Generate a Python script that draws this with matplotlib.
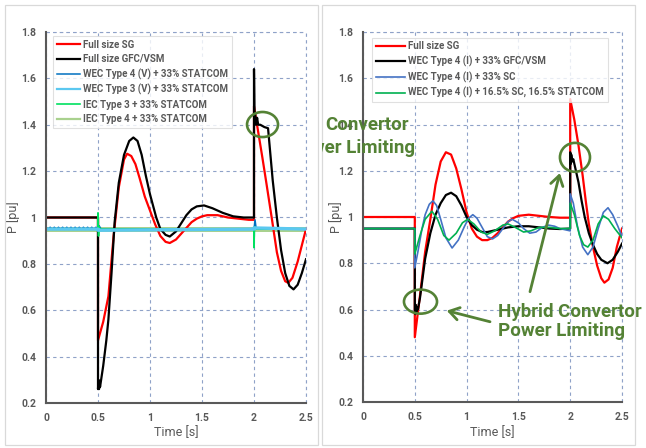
import matplotlib
matplotlib.use("Agg")
import matplotlib.pyplot as plt
from matplotlib.patches import Ellipse, Rectangle

plt.rcParams["font.family"] = ["Roboto", "DejaVu Sans"]

# ---- left chart: full size units vs WEC/IEC models + 33% STATCOM ----
L_SG_T = [0, 0.5, 0.5, 0.55, 0.6, 0.65, 0.7, 0.75, 0.78, 0.82, 0.86, 0.9, 0.95,
          1.0, 1.05, 1.1, 1.15, 1.19, 1.25, 1.3, 1.35, 1.4, 1.45, 1.5, 1.55,
          1.65, 1.75, 1.85, 1.95, 2.0, 2.0, 2.04, 2.08, 2.115, 2.17, 2.22,
          2.26, 2.3, 2.33, 2.37, 2.42, 2.46, 2.5]
L_SG_P = [1.0, 1.0, 0.47, 0.55, 0.66, 0.92, 1.13, 1.25, 1.275, 1.265, 1.23,
          1.17, 1.09, 1.03, 0.97, 0.92, 0.895, 0.89, 0.905, 0.93, 0.955, 0.98,
          0.995, 1.005, 1.01, 1.01, 1.0, 0.995, 0.99, 0.99, 1.48, 1.37, 1.26,
          1.16, 1.0, 0.85, 0.77, 0.725, 0.718, 0.74, 0.81, 0.88, 0.95]

L_GFC_T = [0, 0.5, 0.5, 0.505, 0.51, 0.515, 0.52, 0.53, 0.55, 0.58, 0.6, 0.63,
           0.66, 0.7, 0.75, 0.8, 0.84, 0.88, 0.92, 0.96, 1.0, 1.06, 1.1, 1.15,
           1.19, 1.25, 1.3, 1.35, 1.4, 1.45, 1.52, 1.6, 1.7, 1.8, 1.9, 2.0,
           2.0, 2.005, 2.01, 2.02, 2.03, 2.04, 2.06, 2.1, 2.135, 2.16, 2.18,
           2.22, 2.26, 2.3, 2.34, 2.38, 2.42, 2.46, 2.5]
L_GFC_P = [1.0, 1.0, 0.26, 0.3, 0.26, 0.29, 0.27, 0.3, 0.36, 0.47, 0.56, 0.76,
           0.98, 1.15, 1.27, 1.33, 1.345, 1.33, 1.27, 1.18, 1.1, 1.0, 0.95,
           0.925, 0.918, 0.94, 0.975, 1.01, 1.035, 1.048, 1.052, 1.04, 1.02,
           1.005, 1.0, 1.0, 1.64, 1.42, 1.45, 1.4, 1.43, 1.4, 1.4, 1.39, 1.385,
           1.26, 1.16, 1.0, 0.86, 0.76, 0.705, 0.69, 0.71, 0.76, 0.82]

L_WEC4_T = [0, 0.02, 0.04, 0.06, 0.08, 0.1, 0.12, 0.14, 0.16, 0.18, 0.2, 0.22,
            0.24, 0.26, 0.28, 0.3, 0.32, 0.34, 0.36, 0.38, 0.4, 0.42, 0.44,
            0.46, 0.48, 0.5, 0.51, 0.53, 0.55, 2.0, 2.01, 2.02, 2.04, 2.5]
L_WEC4_P = [0.958, 0.949, 0.958, 0.949, 0.958, 0.949, 0.958, 0.949, 0.958,
            0.949, 0.958, 0.949, 0.958, 0.949, 0.958, 0.949, 0.958, 0.949,
            0.958, 0.949, 0.958, 0.949, 0.958, 0.949, 0.958, 0.95, 0.965,
            0.95, 0.95, 0.95, 0.99, 0.955, 0.95, 0.95]

L_WEC3_T = [0, 0.5, 0.5, 2.0, 2.0, 2.5]
L_WEC3_P = [0.95, 0.95, 0.945, 0.95, 0.955, 0.95]

L_IEC3_T = [0, 0.5, 0.5, 0.505, 0.51, 0.52, 2.0, 2.0, 2.005, 2.01, 2.5]
L_IEC3_P = [0.95, 0.95, 1.02, 0.92, 0.96, 0.95, 0.95, 0.87, 0.96, 0.95, 0.95]

L_IEC4_T = [0, 2.5]
L_IEC4_P = [0.95, 0.95]

# ---- right chart: WEC Type 4 (I) variants ----
R_SG_T = [0, 0.5, 0.5, 0.55, 0.6, 0.65, 0.7, 0.75, 0.8, 0.85, 0.9, 0.95, 1.0,
          1.05, 1.1, 1.15, 1.2, 1.25, 1.3, 1.35, 1.4, 1.45, 1.5, 1.6, 1.7, 1.8,
          1.9, 2.0, 2.0, 2.04, 2.08, 2.12, 2.15, 2.18, 2.22, 2.26, 2.3, 2.33,
          2.37, 2.41, 2.45, 2.5]
R_SG_P = [1.0, 1.0, 0.48, 0.66, 0.85, 0.99, 1.14, 1.24, 1.28, 1.27, 1.21,
          1.12, 1.02, 0.95, 0.915, 0.9, 0.9, 0.91, 0.93, 0.955, 0.98, 0.995,
          1.005, 1.01, 1.005, 1.0, 0.997, 0.997, 1.51, 1.42, 1.31, 1.18, 1.07,
          0.97, 0.87, 0.79, 0.735, 0.716, 0.73, 0.78, 0.87, 0.95]

R_GFC_T = [0, 0.5, 0.5, 0.505, 0.51, 0.515, 0.52, 0.53, 0.55, 0.6, 0.65, 0.7,
           0.75, 0.8, 0.85, 0.9, 0.95, 1.0, 1.05, 1.1, 1.15, 1.2, 1.3, 1.4, 1.5,
           1.6, 1.7, 1.8, 1.9, 2.0, 2.0, 2.005, 2.01, 2.02, 2.03, 2.05, 2.08,
           2.11, 2.14, 2.18, 2.22, 2.26, 2.3, 2.36, 2.41, 2.46, 2.5]
R_GFC_P = [0.95, 0.95, 0.6, 0.58, 0.62, 0.59, 0.61, 0.6, 0.65, 0.82, 0.93,
           1.01, 1.06, 1.095, 1.105, 1.09, 1.05, 1.0, 0.965, 0.945, 0.935,
           0.935, 0.945, 0.955, 0.96, 0.96, 0.955, 0.95, 0.948, 0.95, 1.28,
           1.23, 1.27, 1.24, 1.25, 1.21, 1.15, 1.07, 1.0, 0.93, 0.88, 0.84,
           0.815, 0.8, 0.815, 0.85, 0.885]

R_SC_T = [0, 0.5, 0.5, 0.53, 0.57, 0.6, 0.64, 0.675, 0.71, 0.75, 0.8, 0.86,
          0.92, 0.98, 1.02, 1.06, 1.1, 1.15, 1.2, 1.25, 1.3, 1.35, 1.4, 1.44,
          1.5, 1.55, 1.61, 1.67, 1.73, 1.79, 1.85, 1.9, 1.95, 2.0, 2.0, 2.03,
          2.07, 2.12, 2.17, 2.22, 2.27, 2.32, 2.365, 2.41, 2.46, 2.5]
R_SC_P = [0.95, 0.95, 0.78, 0.85, 0.95, 1.01, 1.055, 1.07, 1.05, 0.99, 0.91,
          0.866, 0.9, 0.96, 0.995, 1.01, 0.995, 0.955, 0.915, 0.905, 0.92,
          0.95, 0.98, 0.99, 0.975, 0.95, 0.93, 0.935, 0.955, 0.965, 0.96,
          0.95, 0.945, 0.94, 1.1, 1.06, 0.96, 0.87, 0.837, 0.87, 0.95, 1.02,
          1.04, 1.01, 0.96, 0.915]

R_MIX_T = [0, 0.5, 0.5, 0.55, 0.6, 0.665, 0.72, 0.78, 0.83, 0.9, 0.96, 1.01,
           1.07, 1.14, 1.2, 1.27, 1.35, 1.4, 1.47, 1.55, 1.62, 1.7, 1.8, 1.9,
           2.0, 2.0, 2.04, 2.09, 2.13, 2.17, 2.22, 2.27, 2.32, 2.37, 2.43, 2.5]
R_MIX_P = [0.95, 0.95, 0.84, 0.92, 0.99, 1.025, 0.99, 0.92, 0.9, 0.93, 0.975,
           0.99, 0.97, 0.935, 0.925, 0.94, 0.965, 0.97, 0.955, 0.935, 0.94,
           0.955, 0.955, 0.95, 0.95, 1.06, 1.01, 0.92, 0.88, 0.87, 0.9, 0.97,
           1.005, 0.99, 0.95, 0.91]

X_TICKS = [0, 0.5, 1, 1.5, 2, 2.5]
X_LABELS = ["0", "0.5", "1", "1.5", "2", "2.5"]
Y_TICKS = [0.2, 0.4, 0.6, 0.8, 1.0, 1.2, 1.4, 1.6, 1.8]
Y_LABELS = ["0.2", "0.4", "0.6", "0.8", "1", "1.2", "1.4", "1.6", "1.8"]

ANNOT = "#548235"
GRAY = "#595959"
GRID = "#8FA2C8"

fig = plt.figure(figsize=(6.46, 4.48), dpi=100)

# chart frames (Excel style)
for x0, x1 in [(5, 318), (322, 635)]:
    fig.add_artist(Rectangle((x0 / 646, 3 / 448), (x1 - x0) / 646, 440 / 448,
                             transform=fig.transFigure, fill=False,
                             ec="#D9D9D9", lw=0.9))

axl = fig.add_axes([46 / 646, 45 / 448, 260 / 646, 371 / 448])
axr = fig.add_axes([363 / 646, 46 / 448, 259 / 646, 370 / 448])


def style(ax, ylab_x, xlab_y):
    ax.set_xlim(0, 2.5)
    ax.set_ylim(0.2, 1.8)
    ax.set_xticks(X_TICKS, X_LABELS)
    ax.set_yticks(Y_TICKS, Y_LABELS)
    ax.tick_params(length=0, labelsize=7.5, colors=GRAY, pad=7)
    for lab in ax.get_xticklabels() + ax.get_yticklabels():
        lab.set_fontweight("bold")
    ax.grid(True, color=GRID, ls=(0, (3, 3)), lw=0.8)
    ax.set_axisbelow(True)
    for s in ("top", "right"):
        ax.spines[s].set_visible(False)
    for s in ("left", "bottom"):
        ax.spines[s].set_color(GRAY)
        ax.spines[s].set_linewidth(1.5)
    # dashed grid at the upper / right limits like the Excel plot area
    ax.axhline(1.8, color=GRID, ls=(0, (3, 3)), lw=0.8, clip_on=False)
    ax.axvline(2.5, color=GRID, ls=(0, (3, 3)), lw=0.8, clip_on=False)
    ax.set_xlabel("Time [s]", color=GRAY, fontsize=9)
    ax.set_ylabel("P [pu]", color=GRAY, fontsize=9)
    ax.yaxis.set_label_coords(ylab_x, 0.5)
    ax.xaxis.set_label_coords(0.5, xlab_y)


def legend(ax, x0, y0, hl):
    leg = ax.legend(loc="upper left", bbox_to_anchor=(x0, y0), fontsize=7,
                    frameon=True, fancybox=False, edgecolor="#D9D9D9",
                    handlelength=hl, handletextpad=0.3, labelspacing=0.45,
                    borderpad=0.4, borderaxespad=0)
    leg.get_frame().set_linewidth(0.8)
    for t in leg.get_texts():
        t.set_color(GRAY)
        t.set_fontweight("bold")


# left
axl.plot(L_IEC4_T, L_IEC4_P, color="#A9D18E", lw=3.6, zorder=2)
axl.plot(L_SG_T, L_SG_P, color="#FF0000", lw=1.6, label="Full size SG")
axl.plot(L_GFC_T, L_GFC_P, color="#000000", lw=1.6, label="Full size GFC/VSM")
axl.plot(L_WEC3_T, L_WEC3_P, color="#5BC8F0", lw=2.4, zorder=2.5)
axl.plot(L_WEC4_T, L_WEC4_P, color="#0070C0", lw=1.1,
         label="WEC Type 4 (V) + 33% STATCOM")
axl.plot([], [], color="#5BC8F0", lw=1.6, label="WEC Type 3 (V) + 33% STATCOM")
axl.plot(L_IEC3_T, L_IEC3_P, color="#00E060", lw=1.2,
         label="IEC Type 3 + 33% STATCOM")
axl.plot([], [], color="#A9D18E", lw=1.6, label="IEC Type 4 + 33% STATCOM")
axl.add_patch(Ellipse((2.082, 1.401), 0.298, 0.108, fill=False, ec=ANNOT,
                      lw=1.9, zorder=5))
style(axl, -0.10, -0.062)
legend(axl, 0.027, 0.99, 2.4)

# right
axr.plot(R_SG_T, R_SG_P, color="#FF0000", lw=1.6, label="Full size SG")
axr.plot(R_GFC_T, R_GFC_P, color="#000000", lw=1.6,
         label="WEC Type 4 (I) + 33% GFC/VSM")
axr.plot(R_SC_T, R_SC_P, color="#4472C4", lw=1.2,
         label="WEC Type 4 (I) + 33% SC")
axr.plot(R_MIX_T, R_MIX_P, color="#00B050", lw=1.2,
         label="WEC Type 4 (I) + 16.5% SC, 16.5% STATCOM")
axr.add_patch(Ellipse((0.555, 0.634), 0.319, 0.104, fill=False, ec=ANNOT,
                      lw=1.9, zorder=5))
axr.add_patch(Ellipse((2.046, 1.258), 0.29, 0.125, fill=False, ec=ANNOT,
                      lw=1.9, zorder=5))
arrow = dict(arrowstyle="->,head_length=0.7,head_width=0.45", color=ANNOT,
             lw=2.0, shrinkA=0, shrinkB=0)
axr.annotate("", xy=(0.808, 0.595), xytext=(1.226, 0.547), arrowprops=arrow)
axr.annotate("", xy=(1.90, 1.19), xytext=(1.612, 0.677), arrowprops=arrow)
axr.text(1.303, 0.549, "Hybrid Convertor\nPower Limiting", color=ANNOT,
         fontsize=13.5, fontweight="bold", ha="left", va="center",
         linespacing=1.1, clip_on=False)
style(axr, -0.077, -0.065)
legend(axr, 0.035, 0.985, 3.0)

# stray text box from the left chart, clipped by the right chart frame
clip = Rectangle((322 / 646, 0), 313 / 646, 1, transform=fig.transFigure)
stray = [("Hybrid ", "right", 324, 125), ("Convertor", "left", 325, 125),
         ("Power Limiting", "right", 415, 148)]
for txt, ha, xp, yc in stray:
    t = fig.text(xp / 646, 1 - yc / 448, txt, color=ANNOT, fontsize=13.5,
                 fontweight="bold", ha=ha, va="center", zorder=5)
    t.set_clip_path(clip)

fig.savefig("out.png", dpi=100)
